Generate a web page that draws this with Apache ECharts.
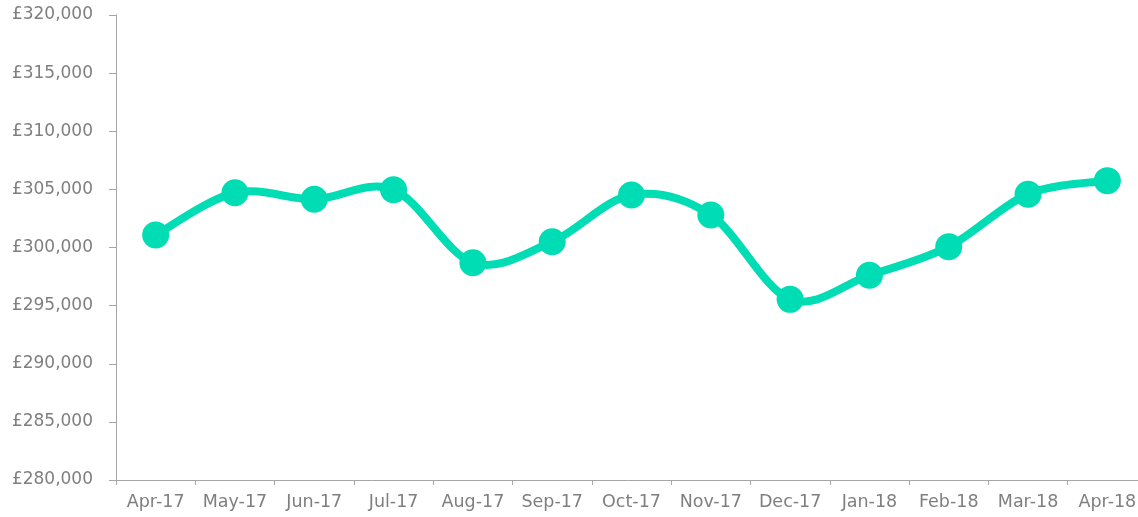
<!DOCTYPE html>
<html>
<head>
<meta charset="utf-8">
<script src="https://cdn.jsdelivr.net/npm/echarts@6/dist/echarts.min.js"></script>
<style>
  html, body { margin: 0; padding: 0; background: #fff; }
  #main { width: 1138px; height: 517px; }
</style>
</head>
<body>
<div id="main"></div>
<script>
// months and average price
const months = ['Apr-17', 'May-17', 'Jun-17', 'Jul-17', 'Aug-17', 'Sep-17', 'Oct-17',
  'Nov-17', 'Dec-17', 'Jan-18', 'Feb-18', 'Mar-18', 'Apr-18'];
const prices = [301075, 304710, 304150, 304970, 298690, 300500, 304520,
  302800, 295540, 297610, 300070, 304580, 305750];
const yMin = 280000;
const yMax = 320000;
const yStep = 5000;

const lineColor = '#00dcb4';
const axisGrey = '#a6a6a6';
const labelGrey = '#7f7f7f';
const labelFont = 'DejaVu Sans';

const chart = echarts.init(document.getElementById('main'));

// one smooth segment per point (Catmull-Rom style, like a spreadsheet's smoothed line)
function renderSegment(params, api) {
  const i = params.dataIndex;
  if (i >= prices.length - 1) return null;
  const pt = k => {
    const j = Math.max(0, Math.min(prices.length - 1, k));
    return api.coord([j, prices[j]]);
  };
  const p0 = pt(i - 1), p1 = pt(i), p2 = pt(i + 1), p3 = pt(i + 2);
  return {
    type: 'bezierCurve',
    shape: {
      x1: p1[0], y1: p1[1],
      x2: p2[0], y2: p2[1],
      cpx1: p1[0] + (p2[0] - p0[0]) / 6,
      cpy1: p1[1] + (p2[1] - p0[1]) / 6,
      cpx2: p2[0] - (p3[0] - p1[0]) / 6,
      cpy2: p2[1] - (p3[1] - p1[1]) / 6
    },
    style: { stroke: lineColor, lineWidth: 8, fill: null, lineCap: 'round' }
  };
}

const option = {
  animation: false,
  grid: {
    left: 116,
    right: -9,
    top: 15,
    bottom: 37,
    outerBoundsMode: 'none'
  },
  xAxis: {
    type: 'category',
    data: months,
    boundaryGap: true,
    axisLine: { lineStyle: { color: axisGrey, width: 1 } },
    axisTick: { show: true, length: 5, lineStyle: { color: axisGrey } },
    axisLabel: {
      color: labelGrey,
      fontFamily: labelFont,
      fontSize: 17.5,
      margin: 13,
      interval: 0
    },
    splitLine: { show: false }
  },
  yAxis: {
    type: 'value',
    min: yMin,
    max: yMax,
    interval: yStep,
    axisLine: { show: true, lineStyle: { color: axisGrey, width: 1 } },
    axisTick: { show: true, length: 7, lineStyle: { color: axisGrey } },
    axisLabel: {
      color: labelGrey,
      fontFamily: labelFont,
      fontSize: 17,
      margin: 23,
      formatter: v => '£' + v.toLocaleString('en-GB')
    },
    splitLine: { show: false }
  },
  series: [
    {
      type: 'custom',
      renderItem: renderSegment,
      data: prices.map((v, i) => [i, v]),
      encode: { x: 0, y: 1 },
      z: 2
    },
    {
      type: 'scatter',
      data: prices,
      symbol: 'circle',
      symbolSize: 27,
      itemStyle: { color: lineColor, opacity: 1 },
      z: 3
    }
  ]
};

chart.setOption(option);
</script>
</body>
</html>
